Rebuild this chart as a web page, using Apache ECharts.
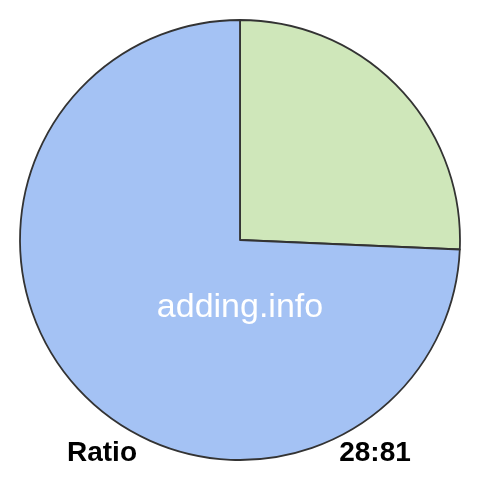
<!DOCTYPE html>
<html>
<head>
<meta charset="utf-8">
<script src="https://cdn.jsdelivr.net/npm/echarts@6/dist/echarts.min.js"></script>
<style>html,body{margin:0;padding:0;background:#fff}#c{width:480px;height:480px}</style>
</head>
<body>
<div id="c"></div>
<script>
const categories = ['28', '81'];
const values = [28, 81];
const colors = ['#cfe7ba', '#a4c2f4'];
const captionLeft = 'Ratio';
const captionRight = '28:81';
const watermark = 'adding.info';

const chart = echarts.init(document.getElementById('c'), null, {renderer: 'canvas'});
chart.setOption({
  animation: false,
  backgroundColor: '#ffffff',
  series: [{
    type: 'pie',
    center: [240, 240],
    radius: [0, 220],
    startAngle: 90,
    clockwise: true,
    label: {show: false},
    labelLine: {show: false},
    emphasis: {disabled: true},
    itemStyle: {borderColor: '#333333', borderWidth: 1.8},
    data: categories.map((c, i) => ({name: c, value: values[i], itemStyle: {color: colors[i]}}))
  }],
  graphic: [
    {type: 'text', x: 240, y: 308, z: 100, style: {text: watermark, fill: '#ffffff', font: '34px "Liberation Sans", Arial, sans-serif', textAlign: 'center', textVerticalAlign: 'middle'}},
    {type: 'text', x: 102, y: 453, z: 100, style: {text: captionLeft, fill: '#000000', font: 'bold 28px "Liberation Sans", Arial, sans-serif', textAlign: 'center', textVerticalAlign: 'middle'}},
    {type: 'text', x: 375, y: 453, z: 100, style: {text: captionRight, fill: '#000000', font: 'bold 28px "Liberation Sans", Arial, sans-serif', textAlign: 'center', textVerticalAlign: 'middle'}}
  ]
});
</script>
</body>
</html>
